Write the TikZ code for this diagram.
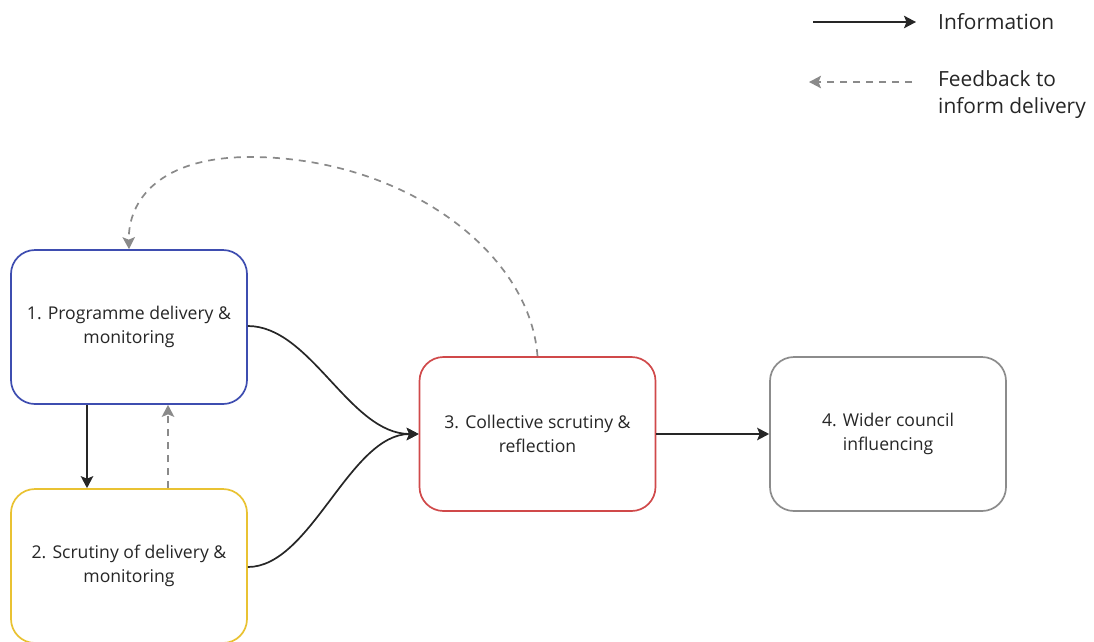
\documentclass[tikz,border=0pt]{standalone}
\usepackage{fontspec}
\setmainfont{Open Sans}
\usetikzlibrary{arrows.meta}
\definecolor{bluebox}{HTML}{3E4DB0}
\definecolor{yellowbox}{HTML}{E9C232}
\definecolor{redbox}{HTML}{D0494A}
\definecolor{graybox}{HTML}{8C8C8C}
\definecolor{fbgray}{HTML}{8A8A8A}
\definecolor{txt}{HTML}{262626}
\tikzset{
  box/.style={draw, rectangle, rounded corners=24pt, minimum width=236pt, minimum height=154pt,
    line width=1.7pt, align=center, fill=white, text=txt, font=\fontsize{17.6}{24.5}\selectfont},
  info/.style={line width=1.7pt, draw=txt, -{Stealth[length=12pt,width=12.5pt,inset=2.5pt]}},
  feedback/.style={line width=1.7pt, draw=fbgray, dash pattern=on 7pt off 6pt, -{Stealth[length=12pt,width=12.5pt,inset=2.5pt]}},
  legtext/.style={anchor=west, align=left, text=txt, font=\fontsize{20.9}{27}\selectfont, inner sep=0pt}
}
\begin{document}
\begin{tikzpicture}[x=1pt,y=-1pt]
\useasboundingbox (0,0) rectangle (1094,641);
\node[box, draw=bluebox] (b1) at (129,327) {1. Programme delivery \&\\monitoring};
\node[box, draw=yellowbox] (b2) at (129,566) {2. Scrutiny of delivery \&\\monitoring};
\node[box, draw=redbox] (b3) at (537.5,434) {3. Collective scrutiny \&\\reflection};
\node[box, draw=graybox] (b4) at (888,434) {4. Wider council\\influencing};

\draw[info] ([xshift=-42pt]b1.south) -- ([xshift=-42pt]b2.north);
\draw[feedback] ([xshift=39pt]b2.north) -- ([xshift=39pt]b1.south);
\draw[info] ([yshift=1pt]b1.east) .. controls +(63,0) and +(-69,0) .. (b3.west);
\draw[info] ([yshift=-1pt]b2.east) .. controls +(63,0) and +(-69,0) .. (b3.west);
\draw[info] (b3.east) -- (b4.west);
\coordinate (peak) at (250,157);
\draw[feedback] (b3.north) .. controls +(-8,-107) and (400,157) .. (peak)
   .. controls (160,157) and (128,200) .. (b1.north);

% legend
\node[legtext] (l1) at (938,22) {Information};
\node[legtext] (l2) at (938,95) {Feedback to\\inform delivery};
\coordinate (i0) at (813,22);
\coordinate (f0) at (912,82);
\draw[info] (i0) -- ([xshift=-22pt]l1.west);
\draw[feedback] (f0) -- (809,82);
\end{tikzpicture}
\end{document}
